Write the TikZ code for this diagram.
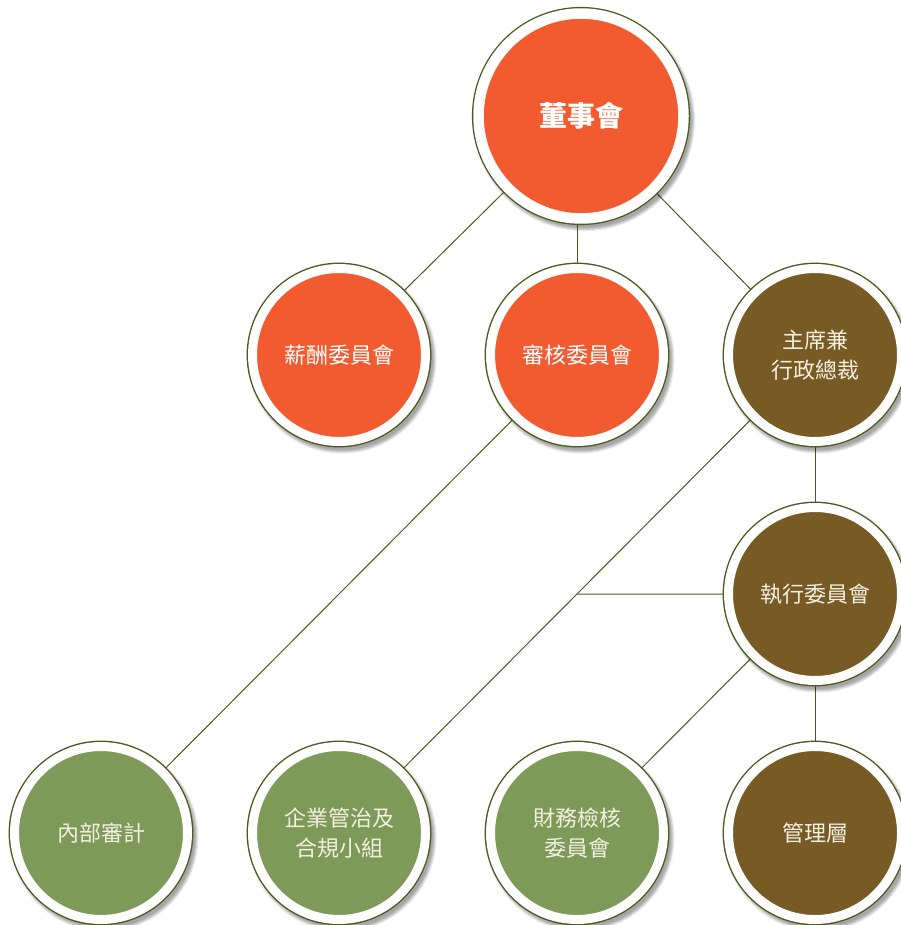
\documentclass[tikz,border=0pt]{standalone}
\usepackage{fontspec}
\setmainfont{Noto Sans CJK TC}
\usepackage{xcolor}
\usepackage{tikz}
\usetikzlibrary{positioning,shadows.blur,backgrounds}

\definecolor{boardorange}{HTML}{F15B2F}
\definecolor{ceobrown}{HTML}{785A24}
\definecolor{unitgreen}{HTML}{7E9A58}
\definecolor{ringline}{HTML}{4B5A1F}
\definecolor{cream}{HTML}{F3F0E2}

\begin{document}
\begin{tikzpicture}[
    x=1pt, y=-1pt,
    node distance=238pt,
    smallring/.style={circle, inner sep=0pt, align=center, minimum size=173pt,
        blur shadow={shadow xshift=3pt, shadow yshift=-4pt, shadow scale=1.07, shadow opacity=35},
        preaction={draw=ringline, line width=11.8pt},
        draw=white, line width=9pt, font=\fontsize{22}{30}\selectfont},
    bigring/.style={circle, inner sep=0pt, align=center, minimum size=205pt,
        blur shadow={shadow xshift=3pt, shadow yshift=-4pt, shadow scale=1.065, shadow opacity=35},
        preaction={draw=ringline, line width=13.2pt},
        draw=white, line width=10.5pt, fill=boardorange, text=white,
        font=\fontsize{28}{34}\selectfont\bfseries},
    orangenode/.style={smallring, fill=boardorange, text=white},
    brownnode/.style={smallring, fill=ceobrown, text=cream},
    greennode/.style={smallring, fill=unitgreen, text=cream},
    link/.style={draw=ringline, line width=1pt}
]
    \useasboundingbox (0,0) rectangle (900,925);

    \node[bigring] (board) at (581,116) {董事會};
    \node[orangenode] (audit) at (577,355) {審核委員會};
    \node[orangenode, left of=audit] (pay) {薪酬委員會};
    \node[brownnode, right of=audit] (ceo) {主席兼\\行政總裁};
    \node[brownnode, below of=ceo, yshift=-1pt] (exco) {執行委員會};
    \node[brownnode, below of=exco, yshift=-1pt] (mgmt) {管理層};
    \node[greennode, left of=mgmt] (finance) {財務檢核\\委員會};
    \node[greennode, left of=finance] (corp) {企業管治及\\合規小組};
    \node[greennode, left of=corp] (internal) {內部審計};

    % connectors sit behind the rings
    \begin{pgfonlayer}{background}
        \path (exco) -- ++(-300,0) coordinate (exfar);
        \coordinate (joint) at (intersection of ceo--corp and exco--exfar);
        \draw[link] (board) -- (pay);
        \draw[link] (audit) -- (audit |- board.south);
        \draw[link] (board) -- (ceo);
        \draw[link] (audit) -- (internal);
        \draw[link] (ceo) -- (corp);
        \draw[link] (ceo) -- (exco);
        \draw[link] (exco) -- (joint);
        \draw[link] (exco) -- (finance);
        \draw[link] (exco) -- (mgmt);
    \end{pgfonlayer}
\end{tikzpicture}
\end{document}
